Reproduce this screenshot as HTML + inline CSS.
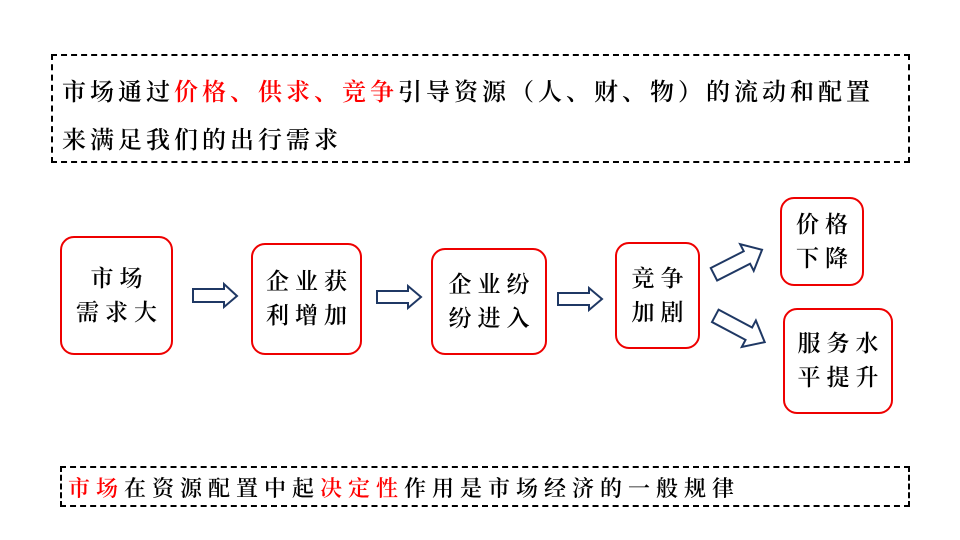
<!DOCTYPE html>
<html><head><meta charset="utf-8"><style>
body{margin:0;width:960px;height:540px;background:#fff;position:relative;overflow:hidden;font-family:"Liberation Serif","Noto Serif CJK SC",serif;color:#000}
.dash{position:absolute;border:2px dashed #000;box-sizing:border-box}
.t{position:absolute;white-space:nowrap;font-weight:600}
.r{color:#f00}
.b{position:absolute;border:2px solid #e00;border-radius:14px;box-sizing:border-box;display:flex;align-items:center;justify-content:center;text-align:center;font-size:23px;line-height:34px;letter-spacing:6px;font-weight:600;padding-left:6px}
</style></head><body>
<div class="dash" style="left:51px;top:54px;width:859px;height:109px"></div>
<div class="t" style="left:62px;top:72px;font-size:24px;letter-spacing:4px">市场通过<span class="r">价格、供求、竞争</span>引导资源（人、财、物）的流动和配置</div>
<div class="t" style="left:62px;top:120px;font-size:24px;letter-spacing:4px">来满足我们的出行需求</div>

<div class="b" style="left:60px;top:236px;width:113px;height:119px">市场<br>需求大</div>
<div class="b" style="left:251px;top:243px;width:111px;height:112px">企业获<br>利增加</div>
<div class="b" style="left:431px;top:248px;width:116px;height:107px">企业纷<br>纷进入</div>
<div class="b" style="left:615px;top:242px;width:85px;height:107px">竞争<br>加剧</div>
<div class="b" style="left:780px;top:197px;width:84px;height:89px">价格<br>下降</div>
<div class="b" style="left:783px;top:308px;width:110px;height:106px">服务水<br>平提升</div>

<svg width="960" height="540" style="position:absolute;left:0;top:0">
<g fill="#fff" stroke="#1f3864" stroke-width="2">
<polygon points="193,289 224,289 224,284 237,296 224,307 224,302 193,302"/>
<polygon points="377,291 408,291 408,286 421,297 408,308 408,303 377,303"/>
<polygon points="558,293 589,293 589,288 602,299 589,310 589,305 558,305"/>
<g transform="translate(738,262) rotate(-27)">
<polygon points="-27,-7 10,-7 10,-15 27,0 10,15 10,7 -27,7"/>
</g>
<g transform="translate(740,329) rotate(28)">
<polygon points="-28,-7 10,-7 10,-15 28,0 10,15 10,7 -28,7"/>
</g>
</g></svg>

<div class="dash" style="left:60px;top:466px;width:850px;height:41px"></div>
<div class="t" style="left:68px;top:472px;font-size:22px;letter-spacing:6px"><span class="r">市场</span>在资源配置中起<span class="r">决定性</span>作用是市场经济的一般规律</div>
</body></html>
